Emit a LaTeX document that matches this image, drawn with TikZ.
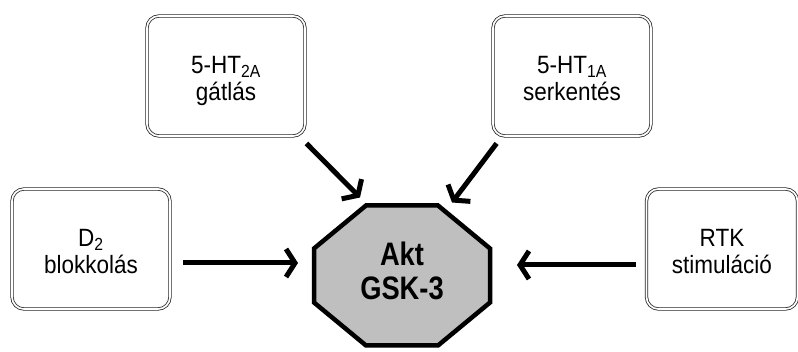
\documentclass[tikz,border=0pt]{standalone}
\usepackage{fontspec}
\setmainfont{Liberation Sans}[FakeStretch=0.9]
\newfontfamily\corefont{Liberation Sans}[FakeStretch=0.84]
\usepackage{tikz}
\usetikzlibrary{arrows.meta,positioning,calc,backgrounds}

\begin{document}
\begin{tikzpicture}[
    x=1pt, y=-1pt,
    effect/.style={rectangle, draw=black!85, line width=0.8pt, double, double distance=1.7pt, rounded corners=12pt, minimum width=158pt, minimum height=120pt, align=center, text height=50pt, text depth=0pt, font=\fontsize{25}{27}\selectfont},
    core/.style={align=center, inner sep=0pt, text height=49pt, text depth=0pt, font=\corefont\bfseries\fontsize{32.5}{34}\selectfont},
    octagon/.style={draw=black, fill=black!25, line width=4.5pt, line join=miter},
    push/.style={-{Straight Barb[length=9pt,width=28pt]}, line width=5pt}
]
\useasboundingbox (0,0) rectangle (798,352);

% Central target
\node[core] (akt) at (402,275.5) {Akt\\GSK-3};
\begin{scope}[on background layer]
\draw[octagon] ([shift={(-36,-70)}]akt.center) -- ([shift={(36,-70)}]akt.center)
    -- ([shift={(88,-27)}]akt.center) -- ([shift={(88,27)}]akt.center)
    -- ([shift={(36,70)}]akt.center) -- ([shift={(-36,70)}]akt.center)
    -- ([shift={(-88,27)}]akt.center) -- ([shift={(-88,-27)}]akt.center) -- cycle;
\end{scope}

% Receptor effects
\node[effect] (ht2a) at (226,76) {5-HT\textsubscript{2A}\\gátlás};
\node[effect] (ht1a) at (572,76) {5-HT\textsubscript{1A}\\serkentés};
\node[effect] (dtwo) at (91,249) {D\textsubscript{2}\\blokkolás};
\node[effect, minimum width=151pt] (rtk) at (722,249) {RTK\\stimuláció};

% Arrows towards the octagon
\draw[push] ([shift={(1,7)}]ht2a.south east) -- ([shift={(-42,-78)}]akt.center);
\draw[push] ([shift={(4,7)}]ht1a.south west) -- ([shift={(50,-73)}]akt.center);
\draw[push] ([shift={(13,14)}]dtwo.east) -- ([shift={(-104,-12.5)}]akt.center);
\draw[push] ([shift={(-10,16)}]rtk.west) -- ([shift={(115,-10.5)}]akt.center);
\end{tikzpicture}
\end{document}
